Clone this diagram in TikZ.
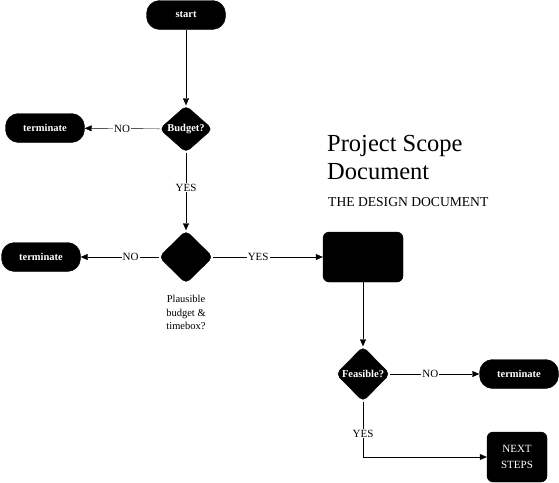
\documentclass[tikz,border=0pt]{standalone}
\usepackage{fontspec}
\setmainfont{Liberation Serif}
\usetikzlibrary{shapes.geometric,arrows.meta}

\tikzset{
  pill/.style={rectangle,rounded corners=13pt,minimum width=79pt,minimum height=29pt,inner sep=0pt},
  decision/.style={diamond,rounded corners=5pt,inner sep=0pt,minimum width=54pt,minimum height=53pt},
  block/.style={rectangle,rounded corners=6pt,inner sep=0pt},
  lbl/.style={fill=white,inner sep=1pt,font=\fontsize{11}{13}\selectfont}
}

\begin{document}
\begin{tikzpicture}[x=1pt,y=-1pt]
      \useasboundingbox (0,0) rectangle (559,482);

      \begin{scope}[every node/.style={fill=black,draw=black,text=white,font=\bfseries\fontsize{10.5}{12}\selectfont}]
        \node[pill] (start)  at (186,15)  {start};
        \node[decision,minimum width=53pt,minimum height=44pt] (budget) at (186,129) {Budget?};
        \node[pill] (term1)  at (45,128)  {terminate};
        \node[decision] (plaus)  at (186,257) {};
        \node[pill] (term2)  at (41,257)  {terminate};
        \node[block,minimum width=80pt,minimum height=50pt] (doc) at (363,257) {};
        \node[decision,minimum height=55pt] (feas) at (363,374) {Feasible?};
        \node[pill] (term3)  at (519,374) {terminate};
        \node[block,minimum width=60pt,minimum height=50pt,align=center,font=\fontsize{11}{15.5}\selectfont] (next) at (517,457) {NEXT\\STEPS};
      \end{scope}

      % texts
      \node[anchor=north,align=center,font=\fontsize{10.5}{13.5}\selectfont] (plauslbl) at (186,292) {Plausible\\budget \&\\timebox?};
      \node[anchor=north west,align=left,inner sep=0pt,font=\fontsize{24.5}{28}\selectfont] (title) at (327,135) {Project Scope\\Document};
      \node[anchor=north west,inner sep=0pt,font=\fontsize{13.6}{15}\selectfont] (subtitle) at (328,197) {THE DESIGN DOCUMENT};

      \begin{scope}[every edge/.style={draw,-{Triangle[length=7pt,width=6pt]}}]
        \path (start)  edge (budget);
        \path (budget) edge node[lbl] {NO} (term1);
        \path (budget) edge node[lbl,pos=0.45] {YES} (plaus);
        \path (plaus)  edge node[lbl,pos=0.36] {NO} (term2);
        \path (plaus)  edge node[lbl,pos=0.41] {YES} (doc);
        \path (doc)    edge (feas);
        \path (feas)   edge node[lbl,pos=0.45] {NO} (term3);
      \end{scope}
      \draw[-{Triangle[length=7pt,width=6pt]}] (feas) |- node[lbl,pos=0.29] {YES} (next);

    \end{tikzpicture}
\end{document}
